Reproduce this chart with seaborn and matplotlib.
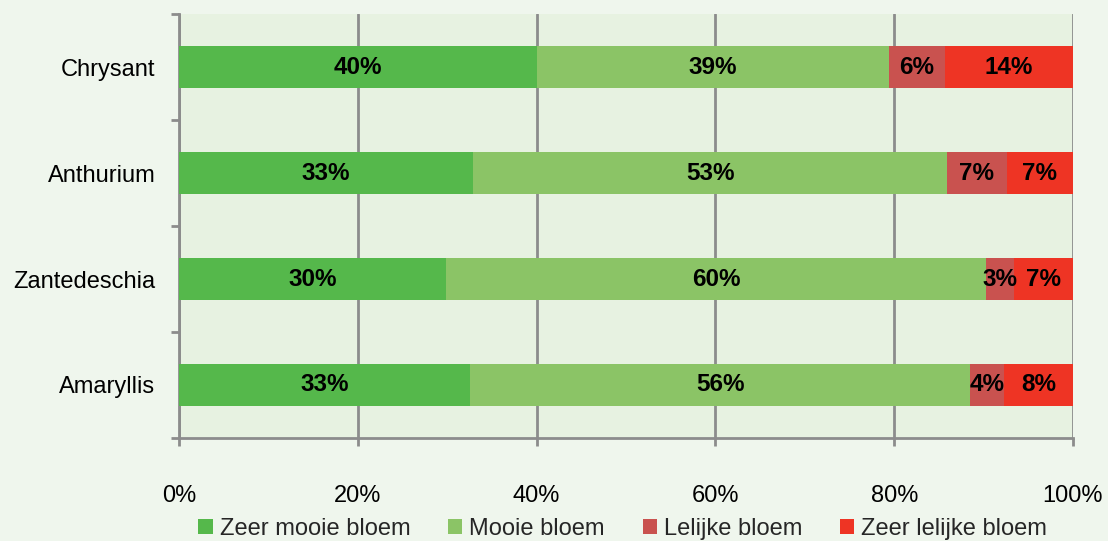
import numpy as np
import pandas as pd
import matplotlib
matplotlib.use("Agg")
import matplotlib.pyplot as plt
from matplotlib.patches import Patch
import seaborn as sns

# Data (percent per flower type)
flowers = ["Chrysant", "Anthurium", "Zantedeschia", "Amaryllis"]
zeer_mooi = [40.0, 32.9, 29.9, 32.6]
mooi = [39.4, 53.0, 60.4, 55.9]
lelijk = [6.3, 6.7, 3.1, 3.8]
zeer_lelijk = [14.3, 7.4, 6.6, 7.7]
series_names = ["Zeer mooie bloem", "Mooie bloem", "Lelijke bloem", "Zeer lelijke bloem"]
x_ticks = [0, 20, 40, 60, 80, 100]

colors = ["#55b84b", "#8bc466", "#c9524f", "#ee3424"]
FIG_BG = "#eff6ed"
AX_BG = "#e7f2e1"
GRID = "#8c8c8c"

sns.set_theme(style="white")
plt.rcParams['font.family'] = ['Liberation Sans', 'DejaVu Sans']

df = pd.DataFrame({"flower": flowers, "s0": zeer_mooi, "s1": mooi,
                   "s2": lelijk, "s3": zeer_lelijk})
cols = ["s0", "s1", "s2", "s3"]
cum = df[cols].cumsum(axis=1)

fig = plt.figure(figsize=(11.08, 5.41), dpi=100, facecolor=FIG_BG)
ax = fig.add_axes([0.1616, 0.1904, 0.9684 - 0.1616, 0.9741 - 0.1904])
ax.set_facecolor(AX_BG)

# stacked bars: draw cumulative totals from largest to smallest
for i in reversed(range(4)):
    sns.barplot(x=cum[cols[i]], y=df["flower"], orient="h", color=colors[i],
                width=0.4, saturation=1, edgecolor="none", ax=ax, zorder=3)

# segment labels
for r, name in enumerate(flowers):
    left = 0
    for i, c in enumerate(cols):
        v = df.loc[r, c]
        ax.text(left + v / 2, r, f"{v:.0f}%", ha="center", va="center",
                fontsize=17.5, fontweight="bold", color="black", zorder=4)
        left += v

ax.set_xlim(0, 100)
ax.set_ylim(3.5, -0.5)
ax.set_xticks(x_ticks)
ax.set_xticklabels([f"{t}%" for t in x_ticks])
ax.set_xlabel("")
ax.set_ylabel("")
ax.xaxis.grid(True, color=GRID, linewidth=2, zorder=1)
ax.set_axisbelow(True)

for s in ["top", "right"]:
    ax.spines[s].set_visible(False)
for s in ["left", "bottom"]:
    ax.spines[s].set_color(GRID)
    ax.spines[s].set_linewidth(2)

ax.set_yticks(np.arange(-0.5, 4, 1), minor=True)
ax.tick_params(axis="y", which="major", length=0, pad=17, labelsize=17, labelcolor="black")
ax.tick_params(axis="y", which="minor", length=6, width=2, color=GRID, direction="out", left=True)
ax.tick_params(axis="x", which="major", length=6, width=2, color=GRID, direction="out",
               bottom=True, pad=28, labelsize=17, labelcolor="black")

handles = [Patch(facecolor=c, edgecolor="none") for c in colors]
fig.legend(handles, series_names, loc="lower center", bbox_to_anchor=(0.562, -0.038),
           ncol=4, frameon=False, fontsize=17, handlelength=0.6, handleheight=0.6,
           handletextpad=0.3, columnspacing=1.6)

fig.savefig("out.png", dpi=100, facecolor=FIG_BG)
